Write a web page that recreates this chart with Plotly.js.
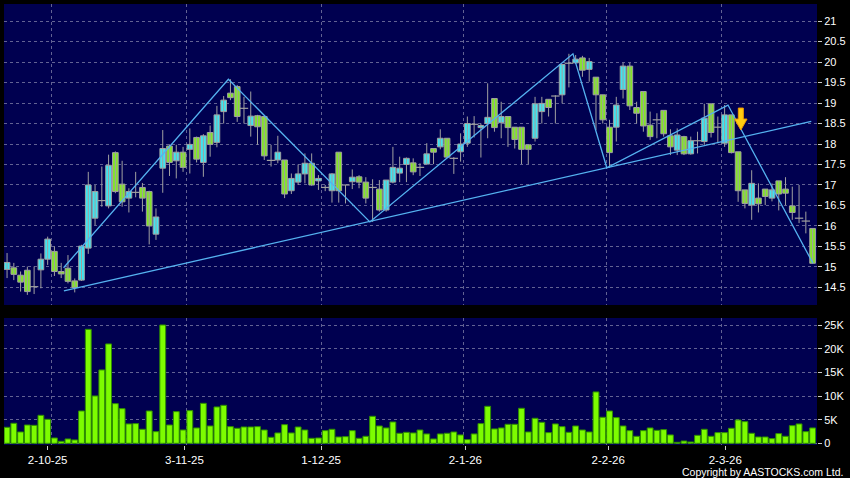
<!DOCTYPE html>
<html>
<head>
<meta charset="utf-8">
<script src="https://cdn.plot.ly/plotly-3.0.1.min.js"></script>
<style>
html,body{margin:0;padding:0;background:#000;}
#chart{width:850px;height:478px;}
</style>
</head>
<body>
<div id="chart"></div>
<script>
// ---- data ----
const openP = [14.94,14.98,14.80,14.92,14.52,14.93,15.19,15.38,14.89,14.97,
  14.66,14.68,15.46,16.19,16.62,16.49,17.79,17.02,16.68,16.82,
  16.94,16.84,15.80,17.41,17.95,17.59,17.80,17.87,18.16,17.55,
  18.28,18.04,18.79,19.24,19.40,18.87,18.45,18.69,18.67,17.60,
  17.61,17.61,16.86,17.07,17.27,17.53,17.10,16.94,16.86,17.80,
  17.00,17.08,17.20,17.07,16.94,16.90,16.39,17.07,17.29,17.50,
  17.54,17.43,17.51,17.89,17.93,18.14,17.65,17.81,18.02,18.48,
  18.40,18.50,19.11,18.52,18.67,18.41,18.41,17.98,18.14,18.79,
  19.09,19.17,19.20,19.97,19.98,20.10,19.82,19.63,19.20,18.41,
  18.41,19.33,19.90,18.89,19.28,18.46,18.59,18.82,18.20,17.85,
  18.18,17.76,18.08,18.06,18.98,18.41,18.02,18.71,17.81,16.88,
  16.51,16.68,16.90,16.68,17.10,16.90,16.49,16.19,16.12,15.94];
const highP = [15.34,15.10,14.89,15.01,15.01,15.33,15.74,15.50,15.10,15.29,
  14.72,15.54,17.32,17.00,17.45,17.74,17.82,17.59,16.92,17.32,
  17.05,16.86,16.43,18.34,17.99,17.98,17.93,18.38,18.18,18.24,
  18.45,18.93,19.17,19.58,19.44,19.15,19.28,18.71,18.67,17.98,
  18.20,17.61,17.28,17.50,17.77,17.77,17.24,17.00,17.29,17.80,
  17.00,17.38,17.24,17.19,17.14,17.12,17.12,17.93,17.69,17.67,
  17.65,17.53,18.02,17.89,18.36,18.14,17.68,18.26,18.67,18.68,
  18.50,19.48,19.11,19.03,18.67,18.41,18.41,17.98,19.15,19.15,
  19.09,19.19,19.94,20.20,20.17,20.15,20.10,19.63,19.20,18.59,
  19.15,19.98,19.98,19.03,19.28,18.79,18.75,18.82,18.36,18.38,
  18.20,18.18,18.30,18.98,18.98,18.67,18.95,18.71,17.81,16.88,
  17.36,17.04,16.90,17.04,17.10,17.19,16.96,17.00,16.35,15.94];
const lowP = [14.73,14.68,14.40,14.32,14.34,14.48,15.05,14.78,14.73,14.60,
  14.38,14.66,15.32,16.02,16.47,16.43,16.80,16.47,16.33,16.70,
  16.35,15.55,15.66,16.81,17.22,17.16,17.32,17.28,17.55,17.20,
  17.69,17.92,18.50,19.07,18.54,18.50,18.18,17.98,17.61,17.45,
  17.53,16.68,16.78,17.00,17.04,16.98,16.88,16.85,16.57,16.57,
  16.55,16.90,16.92,16.55,16.10,16.35,16.35,17.04,17.07,17.07,
  17.24,17.22,17.51,17.51,17.87,17.65,17.27,17.57,17.93,18.16,
  17.67,18.14,18.30,18.14,17.93,17.89,17.51,17.51,18.06,18.50,
  18.67,18.50,18.99,19.38,19.95,19.64,19.52,18.34,18.50,17.42,
  18.06,19.11,18.83,18.50,18.30,18.10,18.14,18.18,17.73,17.73,
  17.73,17.74,17.77,17.98,18.16,18.02,17.93,17.77,16.59,16.43,
  16.15,16.33,16.51,16.60,16.38,16.51,16.15,16.07,15.82,15.09];
const closeP = [15.11,14.82,14.63,14.40,14.52,15.19,15.68,14.89,14.83,14.65,
  14.50,15.51,17.00,16.84,16.62,17.48,16.84,16.59,16.84,16.82,
  16.68,16.00,16.22,17.89,17.55,17.80,17.43,17.99,17.63,18.20,
  17.99,18.71,19.07,19.13,18.67,18.87,18.68,18.42,17.71,17.60,
  17.80,16.78,17.16,17.27,17.53,17.00,17.16,16.94,17.27,16.86,
  17.00,17.19,17.07,16.68,16.94,16.39,17.12,17.43,17.41,17.65,
  17.32,17.43,17.76,17.80,18.14,17.68,17.65,18.00,18.50,18.48,
  18.45,18.65,18.40,18.67,18.40,18.11,17.87,17.87,18.98,18.99,
  18.89,19.17,19.94,19.97,20.07,19.80,20.01,19.20,18.59,17.79,
  18.95,19.90,18.93,18.75,18.44,18.18,18.59,18.25,17.93,18.22,
  17.76,18.08,18.08,18.63,18.28,18.41,18.71,17.79,16.86,16.55,
  17.04,16.54,16.72,16.88,16.78,16.80,16.33,16.19,16.12,15.09];
const volume = [3390,4240,2400,3880,3810,5930,5080,1130,420,920,
  710,6850,24150,10030,15540,21050,8400,7340,4100,4170,
  2970,6850,2470,25070,3880,6710,2820,6920,3250,8470,
  3670,7700,8050,3530,3180,3460,3460,3530,2820,1270,
  2190,3950,2190,3460,2820,1060,1130,2680,2970,1340,
  1410,2680,1060,1480,5720,3670,3250,4520,2120,2330,
  2190,2820,1980,920,1980,2120,2400,1770,780,1980,
  4170,7840,3040,3250,4030,4030,7420,2400,5300,4450,
  2260,4100,3530,2330,3670,2820,2400,10880,5510,6850,
  5440,3670,2680,1480,2680,3250,2750,2900,1770,210,
  490,280,1690,2970,1480,2260,2260,3180,4940,4590,
  2120,1340,1340,990,2050,1480,3740,4100,2470,3250];

// x-axis date labels (trading-day index where each label sits)
const dateLabels = ['2-10-25','3-11-25','1-12-25','2-1-26','2-2-26','2-3-26'];
const dateLabelIdx = [6.0, 26.2, 46.4, 67.7, 88.8, 106.1];
const dateGridIdx  = [6.5, 26.5, 46.5, 67.5, 88.5, 105.5];

// zig-zag wave line and long support line (index, price)
const zigIdx   = [8.35, 32.7, 53.6, 83.6, 88.6, 106.5, 119.05];
const zigPrice = [14.98, 19.58, 16.10, 20.20, 17.42, 18.95, 15.09];
const supIdx   = [8.4, 118.8];
const supPrice = [14.42, 18.55];

// sell-signal arrow position (index, price at arrow tip)
const arrowIdx = 108.4, arrowPrice = 18.34;

const priceTicks = [14.5,15,15.5,16,16.5,17,17.5,18,18.5,19,19.5,20,20.5,21];
const volTicks = [0,5000,10000,15000,20000,25000];
const volTickText = ['0','5K','10K','15K','20K','25K'];

// ---- build ----
const idx = openP.map((_, i) => i);
const upI = idx.filter(i => closeP[i] > openP[i]);
const dnI = idx.filter(i => closeP[i] < openP[i]);
const djI = idx.filter(i => closeP[i] === openP[i]);
const wickX = [], wickY = [];
idx.forEach(i => { wickX.push(i, i, null); wickY.push(lowP[i], highP[i], null); });

const XR = [-0.45, 119.65];
const gridCol = 'rgba(140,140,175,0.7)';
const lineBlue = '#55b2f0';
const edgeGray = '#a0a0a0';
const BODY_W = 0.84;
const tickFont = {family: 'Liberation Sans, Arial, sans-serif', size: 11, color: '#ffffff'};

const traces = [
  {
    type: 'scatter', mode: 'lines', x: wickX, y: wickY, xaxis: 'x', yaxis: 'y',
    line: {color: edgeGray, width: 1}, connectgaps: false, hoverinfo: 'skip', showlegend: false
  },
  {
    type: 'bar', x: upI, base: upI.map(i => openP[i]), y: upI.map(i => closeP[i] - openP[i]),
    xaxis: 'x', yaxis: 'y', width: BODY_W,
    marker: {color: '#3fe4f0', line: {color: edgeGray, width: 1}},
    hoverinfo: 'skip', showlegend: false
  },
  {
    type: 'bar', x: dnI, base: dnI.map(i => closeP[i]), y: dnI.map(i => openP[i] - closeP[i]),
    xaxis: 'x', yaxis: 'y', width: BODY_W,
    marker: {color: '#84e42a', line: {color: edgeGray, width: 1}},
    hoverinfo: 'skip', showlegend: false
  },
  {
    type: 'scatter', mode: 'markers', x: djI, y: djI.map(i => openP[i]), xaxis: 'x', yaxis: 'y',
    marker: {symbol: 'line-ew', size: 6, line: {color: edgeGray, width: 1.2}},
    hoverinfo: 'skip', showlegend: false
  },
  {
    type: 'scatter', mode: 'lines', x: supIdx, y: supPrice, xaxis: 'x', yaxis: 'y',
    line: {color: lineBlue, width: 1.3}, hoverinfo: 'skip', showlegend: false
  },
  {
    type: 'scatter', mode: 'lines', x: zigIdx, y: zigPrice, xaxis: 'x', yaxis: 'y',
    line: {color: lineBlue, width: 1.3}, hoverinfo: 'skip', showlegend: false
  },
  {
    type: 'bar', x: idx, y: volume, xaxis: 'x2', yaxis: 'y2', width: 0.86,
    marker: {color: '#7dfc00', line: {color: '#2f8f00', width: 1}},
    hoverinfo: 'skip', showlegend: false
  },
  {
    type: 'scatter', mode: 'markers', x: [dateLabelIdx[0]], y: [0], xaxis: 'x3', yaxis: 'y2',
    marker: {opacity: 0}, hoverinfo: 'skip', showlegend: false
  }
];

const layout = {
  width: 850, height: 478,
  margin: {l: 4, r: 33, t: 4, b: 33, pad: 0},
  paper_bgcolor: '#000000', plot_bgcolor: '#000050',
  showlegend: false, barmode: 'overlay', bargap: 0,
  xaxis: {
    domain: [0, 1], anchor: 'y', range: XR,
    tickmode: 'array', tickvals: dateGridIdx, showticklabels: false, ticks: '',
    showgrid: true, gridcolor: gridCol, griddash: '3px,3px', gridwidth: 1,
    zeroline: false, showline: false, fixedrange: true
  },
  yaxis: {
    domain: [0.3175, 1], anchor: 'x', side: 'right', range: [14.073, 21.415],
    tickmode: 'array', tickvals: priceTicks, ticktext: priceTicks.map(String),
    ticks: 'outside', ticklen: 4, tickcolor: '#cccccc', tickfont: tickFont,
    showgrid: true, gridcolor: gridCol, griddash: '3px,3px', gridwidth: 1,
    zeroline: false, showline: false, fixedrange: true
  },
  xaxis2: {
    domain: [0, 1], anchor: 'y2', range: XR,
    tickmode: 'array', tickvals: dateGridIdx, showticklabels: false, ticks: '',
    showgrid: true, gridcolor: gridCol, griddash: '3px,3px', gridwidth: 1,
    zeroline: false, showline: false, fixedrange: true
  },
  xaxis3: {
    overlaying: 'x2', anchor: 'y2', range: XR,
    tickmode: 'array', tickvals: dateLabelIdx, ticktext: dateLabels,
    ticks: 'outside', ticklen: 4, tickcolor: '#cccccc', tickfont: {family: 'Liberation Sans, Arial, sans-serif', size: 11.5, color: '#ffffff'},
    showgrid: false, zeroline: false, showline: false, fixedrange: true
  },
  yaxis2: {
    domain: [0, 0.288], anchor: 'x2', side: 'right', range: [-360, 26550],
    tickmode: 'array', tickvals: volTicks, ticktext: volTickText,
    ticks: 'outside', ticklen: 4, tickcolor: '#cccccc', tickfont: tickFont,
    showgrid: true, gridcolor: gridCol, griddash: '3px,3px', gridwidth: 1,
    zeroline: false, showline: false, fixedrange: true
  },
  shapes: [{
    type: 'path', xref: 'x', yref: 'y',
    xsizemode: 'pixel', ysizemode: 'pixel', xanchor: arrowIdx, yanchor: arrowPrice,
    path: 'M -2.5 22 L 2.5 22 L 2.5 11 L 6.2 11 L 0 0 L -6.2 11 L -2.5 11 Z',
    fillcolor: '#ffcc11', line: {color: '#f09a00', width: 1}
  }],
  annotations: [{
    xref: 'paper', yref: 'paper', x: 1.0344, y: -0.0612, xanchor: 'right', yanchor: 'middle',
    showarrow: false, text: 'Copyright by AASTOCKS.com Ltd.',
    font: {family: 'Liberation Sans, Arial, sans-serif', size: 10.5, color: '#ffffff'}
  }]
};

Plotly.newPlot('chart', traces, layout, {staticPlot: true, displayModeBar: false});
</script>
</body>
</html>
